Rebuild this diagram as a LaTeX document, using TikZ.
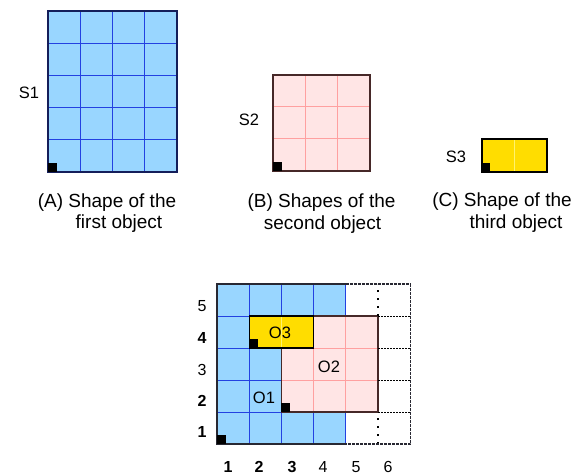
\documentclass[tikz,border=0pt]{standalone}
\usepackage{fontspec}
\setmainfont{Liberation Sans}
\definecolor{bluefill}{RGB}{153,214,255}
\definecolor{blueline}{RGB}{35,65,225}
\definecolor{blueborder}{RGB}{20,30,90}
\definecolor{pinkfill}{RGB}{255,229,229}
\definecolor{pinkline}{RGB}{255,160,160}
\definecolor{pinkborder}{RGB}{70,40,40}
\definecolor{yellowfill}{RGB}{255,221,0}
\definecolor{yellowline}{RGB}{255,242,110}
\definecolor{framecol}{RGB}{40,40,50}
\begin{document}
\begin{tikzpicture}[x=1pt,y=-1pt,
  lbl/.style={font=\fontsize{16.5}{18}\selectfont, inner sep=0pt, anchor=base},
  captxt/.style={font=\fontsize{19}{21}\selectfont, inner sep=0pt, anchor=base},
  num/.style={font=\fontsize{16}{18}\selectfont, inner sep=0pt, anchor=base},
  bnum/.style={num, font=\fontsize{16}{18}\selectfont\bfseries},
  bgrid/.style={blueline, line width=1pt},
  pgrid/.style={pinkline, line width=1pt},
  ygrid/.style={yellowline, line width=1pt},
  originsq/.style={fill=black},
  hdot/.style={black, line width=0.9pt, dash pattern=on 1.5pt off 1.5pt},
  vdot/.style={black, line width=1.2pt, dash pattern=on 2pt off 6pt},
  framedash/.style={framecol, line width=1.1pt, dash pattern=on 3pt off 1pt}]
\useasboundingbox (0,0) rectangle (573,476);
\fill[white] (0,0) rectangle (573,476);

% ---------- S1 ----------
\begin{scope}[shift={(48pt,-172pt)}, x=32.25pt, y=32.2pt]
  \fill[bluefill] (0,0) rectangle (4,5);
  \foreach \i in {1,2,3} \draw[bgrid] (\i,0) -- (\i,5);
  \foreach \j in {1,2,3,4} \draw[bgrid] (0,\j) -- (4,\j);
  \draw[blueborder, line width=1.2pt] (0,0) rectangle (4,5);
  \fill[originsq] (0,0) rectangle (0.27,0.27);
\end{scope}

% ---------- S2 ----------
\begin{scope}[shift={(273pt,-171pt)}, x=32.33pt, y=32pt]
  \fill[pinkfill] (0,0) rectangle (3,3);
  \foreach \i in {1,2} \draw[pgrid] (\i,0) -- (\i,3);
  \foreach \j in {1,2} \draw[pgrid] (0,\j) -- (3,\j);
  \draw[pinkborder, line width=1.2pt] (0,0) rectangle (3,3);
  \fill[originsq] (0,0) rectangle (0.27,0.27);
\end{scope}

% ---------- S3 ----------
\begin{scope}[shift={(482pt,-172pt)}, x=32.5pt, y=33pt]
  \fill[yellowfill] (0,0) rectangle (2,1);
  \draw[ygrid] (1,0) -- (1,1);
  \draw[black, line width=1.2pt] (0,0) rectangle (2,1);
  \fill[originsq] (0,0) rectangle (0.26,0.26);
\end{scope}

% labels of shapes
\node[lbl] (s1) at (29,99) {S1};
\node[lbl] (s2) at (249,126) {S2};
\node[lbl] (s3) at (456,162) {S3};

% captions
\node[captxt] (capA1) at (107,207) {(A) Shape of the};
\node[captxt] (capA2) at (119,228) {first object};
\node[captxt] (capB1) at (321.5,207) {(B) Shapes of the};
\node[captxt] (capB2) at (322.5,229) {second object};
\node[captxt] (capC1) at (502,206) {(C) Shape of the};
\node[captxt] (capC2) at (516,228) {third object};

% ---------- combined grid ----------
\begin{scope}[shift={(217pt,-444pt)}, x=32.2pt, y=32pt]
  % O1
  \fill[bluefill] (0,0) rectangle (4,5);
  \foreach \i in {1,2,3,4} \draw[bgrid] (\i,0) -- (\i,5);
  \foreach \j in {1,2,3,4} \draw[bgrid] (0,\j) -- (4,\j);
  % O2
  \fill[pinkfill] (2,1) rectangle (5,4);
  \foreach \i in {3,4} \draw[pgrid] (\i,1) -- (\i,4);
  \foreach \j in {2,3} \draw[pgrid] (2,\j) -- (5,\j);
  \draw[pinkborder, line width=1.1pt] (2,1) rectangle (5,4);
  % O3
  \fill[yellowfill] (1,3) rectangle (3,4);
  \draw[ygrid] (2,3) -- (2,4);
  \draw[black, line width=1.1pt] (1,3) rectangle (3,4);
  % dotted free cells
  \draw[vdot] (5,0) -- (5,1);
  \draw[vdot] (5,4) -- (5,5);
  \foreach \j in {1,2,3,4} \draw[hdot] (5,\j) -- (6,\j);
  % outer frame
  \draw[framedash] (4,5) -- (6,5) -- (6,0) -- (4,0);
  \draw[framecol, line width=1.1pt] (4,5) -- (0,5) -- (0,0) -- (4,0);
  % origin squares
  \fill[originsq] (0,0) rectangle (0.27,0.27);
  \fill[originsq] (1,3) rectangle (1.27,3.27);
  \fill[originsq] (2,1) rectangle (2.27,1.27);
\end{scope}

% object labels
\node[lbl] (o3) at (280,338) {O3};
\node[lbl] (o2) at (329,372) {O2};
\node[lbl] (o1) at (264,403) {O1};

% row numbers
\node[num]  (r5) at (202,311.5) {5};
\node[bnum] (r4) at (202,343) {4};
\node[num]  (r3) at (202,375) {3};
\node[bnum] (r2) at (202,406.5) {2};
\node[bnum] (r1) at (202,437.5) {1};

% column numbers
\node[bnum] (c1) at (228,472) {1};
\node[bnum] (c2) at (259,472) {2};
\node[bnum] (c3) at (292,472) {3};
\node[num]  (c4) at (323,472) {4};
\node[num]  (c5) at (356,472) {5};
\node[num]  (c6) at (388,472) {6};
\end{tikzpicture}
\end{document}
